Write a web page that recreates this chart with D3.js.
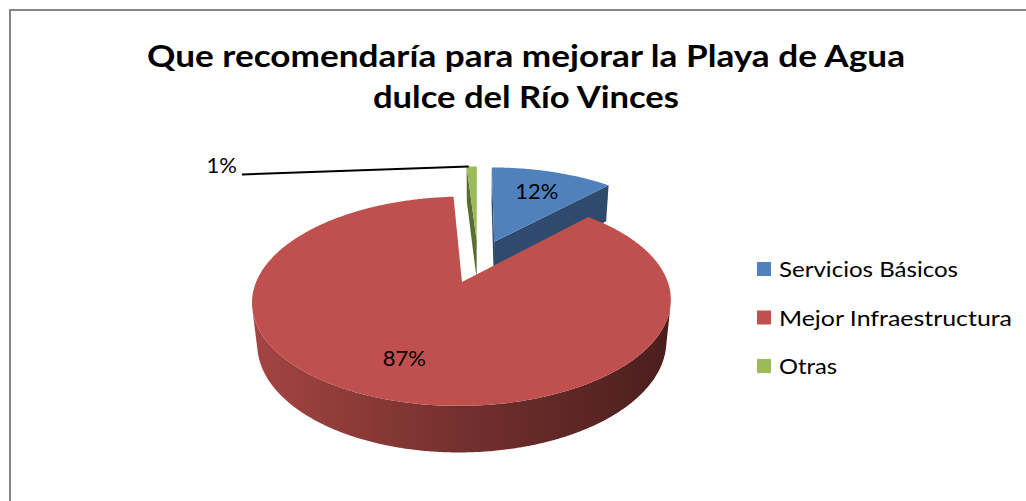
<!DOCTYPE html>
<meta charset="utf-8">
<html>
<head>
  <title>Que recomendaría para mejorar la Playa</title>
  <style>
    body { margin: 0; background: #fff; }
    svg { display: block; font-family: Lato, "Open Sans", sans-serif; }
  </style>
</head>
<body>
<svg id="chart" width="1026" height="501"></svg>

<script src="https://d3js.org/d3.v7.min.js"></script>
<script>

// chart data
const categories = ["Servicios Básicos", "Mejor Infraestructura", "Otras"];
const values = [12, 87, 1];
const valueLabels = ["12%", "87%", "1%"];
const colors = ["#4F81BD", "#C0504D", "#9BBB59"];
const titleLines = ["Que recomendaría para mejorar la Playa de Agua", "dulce del Río Vinces"];

const svg = d3.select("#chart");
const defs = svg.append("defs");

// frame
svg.append("rect")
  .attr("x", 10).attr("y", 10)
  .attr("width", 1040).attr("height", 520)
  .attr("fill", "#fff")
  .attr("stroke", "#868686")
  .attr("stroke-width", 2);

// title
const titleWidths = [758, 306];
svg.append("g").selectAll("text")
  .data(titleLines)
  .join("text")
  .attr("x", 526)
  .attr("y", (d, i) => 67 + i * 41)
  .attr("text-anchor", "middle")
  .attr("font-size", 31)
  .attr("font-weight", "bold")
  .attr("fill", "#000")
  .attr("textLength", (d, i) => titleWidths[i])
  .attr("lengthAdjust", "spacingAndGlyphs")
  .text(d => d);

// --- 3D pie with a simple perspective camera ---
const cam = { cx: 478, cy: 261, F: 990, D: 5.0, phi: 28.2 * Math.PI / 180, H: 0.234, explode: 0.23 };
const sphi = Math.sin(cam.phi), cphi = Math.cos(cam.phi);

function project(X, Y, Z) {
  const yp = Y * cphi - Z * sphi;
  const zp = Y * sphi + Z * cphi;
  const k = cam.F / (cam.D - zp);
  return [cam.cx + X * k, cam.cy - yp * k];
}

// point on the slice rim (theta clockwise from the back)
function rim(c, theta, r, Y) {
  return project(c.x + r * Math.sin(theta), Y, c.z - r * Math.cos(theta));
}

function area(pts) {
  let s = 0;
  for (let i = 0; i < pts.length; i++) {
    const a = pts[i], b = pts[(i + 1) % pts.length];
    s += a[0] * b[1] - b[0] * a[1];
  }
  return s / 2;
}

function shade(col, f) {
  const c = d3.rgb(col);
  return d3.rgb(c.r * f, c.g * f, c.b * f).formatHex();
}

const pie = d3.pie().sort(null).value(d => d)(values);

const slices = pie.map((p, i) => {
  const mid = (p.startAngle + p.endAngle) / 2;
  return {
    i, a0: p.startAngle, a1: p.endAngle, mid,
    c: { x: cam.explode * Math.sin(mid), z: -cam.explode * Math.cos(mid) }
  };
});

// side gradients (light on the left, dark on the right)
slices.forEach(sl => {
  const gr = defs.append("linearGradient")
    .attr("id", "side" + sl.i)
    .attr("gradientUnits", "userSpaceOnUse")
    .attr("x1", cam.cx - 230).attr("x2", cam.cx + 200)
    .attr("y1", 0).attr("y2", 0);
  [[0, 0.86], [0.5, 0.6], [1, 0.38]].forEach(s => {
    gr.append("stop").attr("offset", s[0]).attr("stop-color", shade(colors[sl.i], s[1]));
  });
});

// paint back slices first
const order = slices.slice().sort((a, b) => a.c.z - b.c.z);

const line = d3.line();
const pieG = svg.append("g");

order.forEach(sl => {
  const g = pieG.append("g");
  const col = colors[sl.i];
  const H = -cam.H;
  const n = Math.max(2, Math.ceil((sl.a1 - sl.a0) / (Math.PI / 360)));
  const angles = d3.range(n + 1).map(k => sl.a0 + (sl.a1 - sl.a0) * k / n);
  const cTop = project(sl.c.x, 0, sl.c.z);
  const cBot = project(sl.c.x, H, sl.c.z);

  // cut faces
  const sTop = rim(sl.c, sl.a0, 1, 0), sBot = rim(sl.c, sl.a0, 1, H);
  const eTop = rim(sl.c, sl.a1, 1, 0), eBot = rim(sl.c, sl.a1, 1, H);
  [[cTop, cBot, sBot, sTop], [cTop, eTop, eBot, cBot]]
    .filter(pts => area(pts) > 0)
    .forEach(pts => {
      g.append("path").attr("d", line(pts) + "Z").attr("fill", shade(col, 0.58));
    });

  // outer wall: group visible segments into runs
  const runs = [];
  let cur = null;
  for (let k = 0; k < n; k++) {
    const t0 = angles[k], t1 = angles[k + 1];
    const quad = [rim(sl.c, t1, 1, 0), rim(sl.c, t0, 1, 0), rim(sl.c, t0, 1, H), rim(sl.c, t1, 1, H)];
    if (area(quad) > 0) {
      if (!cur) { cur = [t0]; runs.push(cur); }
      cur.push(t1);
    } else cur = null;
  }
  runs.forEach(ts => {
    const pts = ts.map(t => rim(sl.c, t, 1, 0))
      .concat(ts.slice().reverse().map(t => rim(sl.c, t, 1, H)));
    g.append("path")
      .attr("d", line(pts) + "Z")
      .attr("fill", `url(#side${sl.i})`);
  });

  // top face
  const topPts = [cTop].concat(angles.map(t => rim(sl.c, t, 1, 0)));
  g.append("path")
    .attr("d", line(topPts) + "Z")
    .attr("fill", col);
});

// data labels
const insideR = 0.7;
slices.forEach(sl => {
  if (values[sl.i] >= 5) {
    const p = rim(sl.c, sl.mid, insideR, 0);
    svg.append("text")
      .attr("x", p[0]).attr("y", p[1] + 8)
      .attr("text-anchor", "middle")
      .attr("font-size", 22)
      .attr("fill", "#000")
      .text(valueLabels[sl.i]);
  } else {
    // outside label with leader line
    const p = rim(sl.c, sl.mid, 1, 0);
    const lx = 237, ly = 173;
    svg.append("path")
      .attr("d", line([[lx + 5, ly + 1.5], [p[0] - 3, p[1]]]))
      .attr("stroke", "#000")
      .attr("stroke-width", 2)
      .attr("fill", "none");
    svg.append("text")
      .attr("x", lx).attr("y", ly)
      .attr("text-anchor", "end")
      .attr("font-size", 22)
      .attr("fill", "#000")
      .text(valueLabels[sl.i]);
  }
});

// legend
const legendWidths = [179, 233, 58];
const legend = svg.append("g")
  .selectAll("g")
  .data(categories)
  .join("g")
  .attr("transform", (d, i) => `translate(757, ${262 + i * 48.5})`);

legend.append("rect")
  .attr("width", 14).attr("height", 14)
  .attr("fill", (d, i) => colors[i]);

legend.append("text")
  .attr("x", 22).attr("y", 15)
  .attr("font-size", 22)
  .attr("fill", "#000")
  .attr("textLength", (d, i) => legendWidths[i])
  .attr("lengthAdjust", "spacingAndGlyphs")
  .text(d => d);

</script>
</body>
</html>
